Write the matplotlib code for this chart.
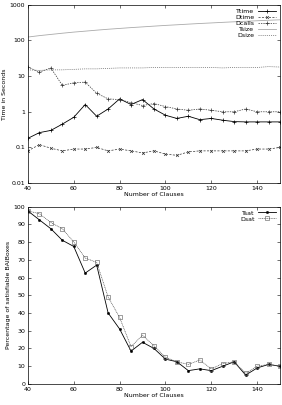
#!/usr/bin/env python3
"""Runtime and satisfiability curves versus number of clauses."""

import matplotlib
matplotlib.use("Agg")
import matplotlib.pyplot as plt
from matplotlib.ticker import FixedLocator, NullLocator

clauses = [40, 45, 50, 55, 60, 65, 70, 75, 80, 85, 90, 95, 100,
           105, 110, 115, 120, 125, 130, 135, 140, 145, 150]

ttime = [0.18, 0.26, 0.30, 0.45, 0.70, 1.6, 0.75, 1.2, 2.3, 1.6, 2.2, 1.2,
         0.80, 0.65, 0.75, 0.60, 0.65, 0.58, 0.53, 0.52, 0.52, 0.52, 0.52]
dtime = [0.080, 0.12, 0.095, 0.080, 0.090, 0.090, 0.10, 0.080, 0.090, 0.080,
         0.070, 0.080, 0.065, 0.060, 0.075, 0.080, 0.080, 0.080, 0.080, 0.080,
         0.090, 0.090, 0.10]
dcalls = [18, 13, 17, 5.5, 6.5, 6.8, 3.3, 2.3, 2.2, 1.8, 1.5, 1.7, 1.4, 1.2,
          1.1, 1.2, 1.1, 1.0, 1.0, 1.2, 1.0, 1.0, 1.0]
tsize = [125, 137, 148, 160, 172, 183, 195, 207, 218, 230, 241, 253, 265,
         276, 288, 300, 311, 323, 335, 346, 358, 370, 381]
dsize = [15, 14.5, 15, 15, 15.5, 16, 16, 16.5, 17, 17, 17, 17.5, 17.5, 17.5,
         17.5, 17.5, 17.5, 17, 17.5, 17.5, 17.5, 18.5, 18]

tsat = [97.5, 92.5, 87.5, 81, 77.5, 62.5, 67, 40, 31, 18.5, 23.5, 20, 14,
        12.5, 7.5, 8.5, 7.5, 10, 12.5, 5, 9, 11, 10]
dsat = [97.5, 96, 91, 87.5, 80, 71, 68.5, 49, 37.5, 21, 27.5, 21.5, 15, 12.5,
        11, 13.5, 8.5, 11.5, 12.5, 6, 10, 11, 10]

plt.rcParams.update({
    "font.family": "DejaVu Sans",
    "font.size": 4.5,
    "axes.linewidth": 0.5,
    "xtick.direction": "in",
    "ytick.direction": "in",
    "xtick.top": True,
    "ytick.right": True,
    "xtick.major.size": 2.5,
    "ytick.major.size": 2.5,
    "xtick.major.width": 0.4,
    "ytick.major.width": 0.4,
    "xtick.minor.size": 1.3,
    "ytick.minor.size": 1.3,
    "xtick.major.pad": 2,
    "ytick.major.pad": 2,
})

fig = plt.figure(figsize=(2.82, 4.05), dpi=100)
ax1 = fig.add_axes([0.099, 0.548, 0.894, 0.44])
ax2 = fig.add_axes([0.099, 0.052, 0.894, 0.438])

ax1.plot(clauses, ttime, color="black", lw=0.6, marker="+", ms=2.5, mew=0.5,
         label="Ttime")
ax1.plot(clauses, dtime, color="#333333", lw=0.5, ls=(0, (3, 2)), marker="x",
         ms=2, mew=0.5, label="Dtime")
ax1.plot(clauses, dcalls, color="#333333", lw=0.5, ls=(0, (2, 1.5)), marker="+",
         ms=2.5, mew=0.5, label="Dcalls")
ax1.plot(clauses, tsize, color="#aaaaaa", lw=0.6, label="Tsize")
ax1.plot(clauses, dsize, color="#666666", lw=0.5, ls=(0, (1.5, 1.5)),
         label="Dsize")
ax1.set_yscale("log")
ax1.set_xlim(40, 150)
ax1.set_ylim(0.01, 1000)
ax1.yaxis.set_major_locator(FixedLocator([0.01, 0.1, 1, 10, 100, 1000]))
ax1.set_yticklabels(["0.01", "0.1", "1", "10", "100", "1000"])
ax1.yaxis.set_minor_locator(NullLocator())
ax1.set_xticks([40, 60, 80, 100, 120, 140])
ax1.set_xlabel("Number of Clauses", labelpad=1)
ax1.set_ylabel("Time in Seconds", labelpad=2)
ax1.legend(loc="upper right", frameon=False, markerfirst=False, fontsize=4.5,
           handlelength=3, handletextpad=0.5, labelspacing=0.1,
           borderaxespad=0.2)

ax2.plot(clauses, tsat, color="black", lw=0.6, marker="o", ms=1.6, mew=0.4,
         label="Tsat")
ax2.plot(clauses, dsat, color="#555555", lw=0.5, ls=(0, (1.5, 1)), marker="s",
         ms=2.3, mew=0.4, mfc="none", label="Dsat")
ax2.set_xlim(40, 150)
ax2.set_ylim(0, 100)
ax2.set_yticks(range(0, 101, 10))
ax2.set_xticks([40, 60, 80, 100, 120, 140])
ax2.set_xlabel("Number of Clauses", labelpad=1)
ax2.set_ylabel("Percentage of satisfiable BAlBoxes", labelpad=2)
ax2.legend(loc="upper right", frameon=False, markerfirst=False, fontsize=4.5,
           handlelength=3, handletextpad=0.5, labelspacing=0.1,
           borderaxespad=0.2)

fig.savefig("out.png", dpi=100)
